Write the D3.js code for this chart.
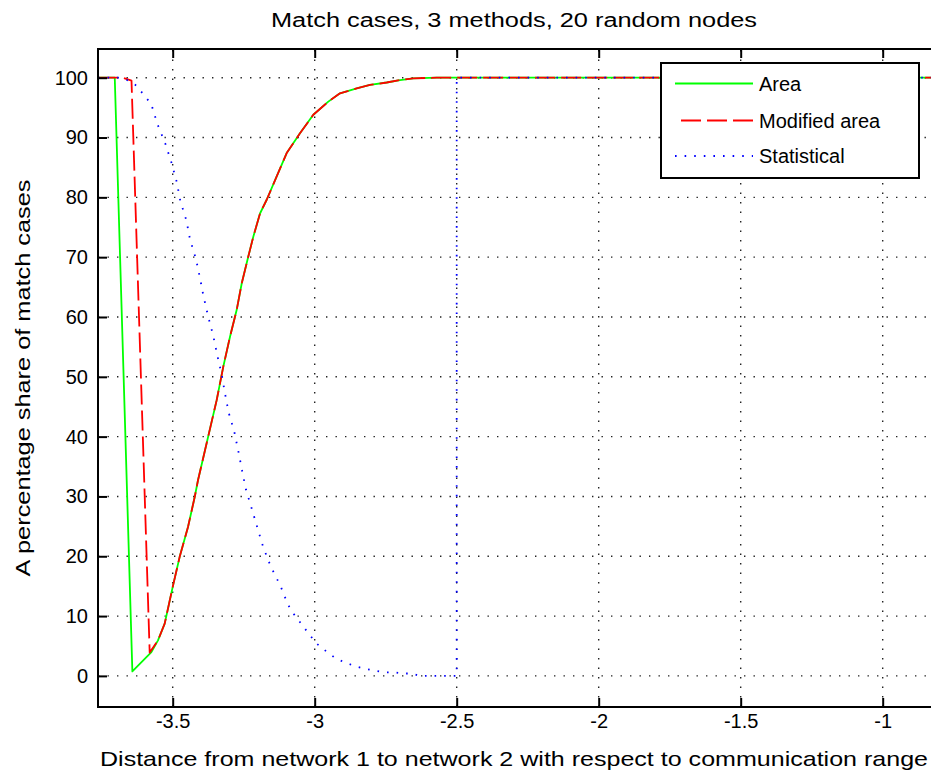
<!DOCTYPE html>
<html>
<head>
<meta charset="utf-8">
<script src="https://cdn.jsdelivr.net/npm/d3@7/dist/d3.min.js"></script>
<style>
  html, body { margin: 0; padding: 0; background: #fff; }
  svg { display: block; }
  text { font-family: "Liberation Sans", Arial, sans-serif; fill: #000; }
</style>
</head>
<body>
<svg id="chart" width="931" height="775"></svg>
<script>
// ---------------- data ----------------
const chartTitle = "Match cases, 3 methods, 20 random nodes";
const xLabel = "Distance from network 1 to network 2 with respect to communication range";
const yLabel = "A percentage share of match cases";
const seriesNames = ["Area", "Modified area", "Statistical"];
const seriesColors = ["#00ff00", "#ff0000", "#0000ff"];

const xTicks = [-3.5, -3, -2.5, -2, -1.5, -1];
const yTicks = [0, 10, 20, 30, 40, 50, 60, 70, 80, 90, 100];

const areaX = [-3.763, -3.704, -3.642, -3.575, -3.5518, -3.5282, -3.4989, -3.4754, -3.4461, -3.4225, -3.4109,
  -3.3451, -3.3218, -3.2982, -3.2746, -3.2570, -3.2338, -3.2162, -3.1926, -3.1690, -3.1338, -3.0986,
  -3.0518, -3.0049, -2.9521, -2.9109, -2.8521, -2.8053, -2.7465, -2.6996, -2.6528, -2.5704, -0.79];
const areaY = [100, 100, 0.75, 3.98, 5.94, 8.73, 15.1, 19.9, 24.9, 29.9, 32.7,
  46.1, 51.7, 56.7, 61.2, 65.6, 70.1, 73.4, 77.3, 79.6, 83.5, 87.4,
  90.7, 93.8, 96.0, 97.4, 98.2, 98.8, 99.2, 99.6, 99.9, 100, 100];

const modX = [-3.763, -3.675, -3.645, -3.581, -3.5518, -3.5282, -3.4989, -3.4754, -3.4461, -3.4225, -3.4109,
  -3.3451, -3.3218, -3.2982, -3.2746, -3.2570, -3.2338, -3.2162, -3.1926, -3.1690, -3.1338, -3.0986,
  -3.0518, -3.0049, -2.9521, -2.9109, -2.8521, -2.8053, -2.7465, -2.6996, -2.6528, -2.5704, -0.79];
const modY = [100, 100, 99.5, 3.9, 5.94, 8.73, 15.1, 19.9, 24.9, 29.9, 32.7,
  46.1, 51.7, 56.7, 61.2, 65.6, 70.1, 73.4, 77.3, 79.6, 83.5, 87.4,
  90.7, 93.8, 96.0, 97.4, 98.2, 98.8, 99.2, 99.6, 99.9, 100, 100];

const statX = [-3.763, -3.6856, -3.6599, -3.6282, -3.6011, -3.5754, -3.5542, -3.5261, -3.5049, -3.4859,
  -3.4732, -3.4521, -3.4391, -3.4180, -3.4039, -3.3908, -3.3746, -3.3570, -3.3430, -3.3275, -3.3158,
  -3.3028, -3.2831, -3.2690, -3.2560, -3.2419, -3.2218, -3.2021, -3.1810, -3.1549, -3.1211, -3.0940,
  -3.0729, -3.0472, -3.0201, -2.9930, -2.9592, -2.9250, -2.8908, -2.8570, -2.8239, -2.7901, -2.7560,
  -2.7218, -2.6926, -2.6574, -2.6292, -2.5, -2.5, -0.79];
const statY = [100, 100, 99.6, 98.7, 97.1, 95.6, 92.3, 89.0, 85.9, 82.6,
  79.4, 76.2, 73.0, 69.7, 66.5, 63.3, 60.0, 56.8, 53.6, 50.4, 47.2,
  44.0, 40.8, 37.6, 34.4, 31.1, 28.0, 24.8, 21.5, 18.3, 15.1, 11.9,
  10.3, 8.7, 7.0, 5.4, 4.1, 2.9, 2.2, 1.6, 1.2, 0.9, 0.6,
  0.6, 0.4, 0.4, 0, 0, 100, 100];

// ---------------- layout ----------------
const svg = d3.select("#chart");
const plotL = 98, plotT = 49, plotB = 707;
const x = d3.scaleLinear().domain([-3.763, -0.79]).range([plotL, plotL + 2.973 * 284]);
const y = d3.scaleLinear().domain([-5.2, 104.8]).range([plotB, plotT]);
const plotR = x.range()[1];

svg.append("rect").attr("width", 931).attr("height", 775).attr("fill", "#fff");

svg.append("defs").append("clipPath").attr("id", "clip")
  .append("rect").attr("x", plotL).attr("y", plotT).attr("width", plotR - plotL).attr("height", plotB - plotT);

svg.append("rect").attr("x", plotL).attr("y", plotT).attr("width", plotR - plotL).attr("height", plotB - plotT)
  .attr("fill", "#fff");

// grid
const grid = svg.append("g").attr("clip-path", "url(#clip)")
  .attr("stroke", "#222").attr("stroke-width", 1.4).attr("stroke-dasharray", "1.4,8.1");
grid.selectAll("line.v").data(xTicks).join("line").attr("class", "v")
  .attr("x1", d => x(d)).attr("x2", d => x(d)).attr("y1", plotB).attr("y2", plotT);
grid.selectAll("line.h").data(yTicks).join("line").attr("class", "h")
  .attr("x1", plotL).attr("x2", plotR).attr("y1", d => y(d)).attr("y2", d => y(d));

// series
const lineGen = d3.line().x(d => x(d[0])).y(d => y(d[1]));
const seriesData = [
  { xs: areaX, ys: areaY, dash: null, width: 1.8 },
  { xs: modX, ys: modY, dash: "20,6", width: 1.8 },
  { xs: statX, ys: statY, dash: "1.6,8", width: 1.8 }
];
const lines = svg.append("g").attr("clip-path", "url(#clip)");
seriesData.forEach((s, i) => {
  lines.append("path")
    .datum(s.xs.map((v, k) => [v, s.ys[k]]))
    .attr("d", lineGen)
    .attr("fill", "none")
    .attr("stroke", seriesColors[i])
    .attr("stroke-width", s.width)
    .attr("stroke-dasharray", s.dash)
    .attr("stroke-linejoin", "round");
});

// axes (ticks inward)
const fmt = d => String(d);
const xAxis = svg.append("g").attr("transform", `translate(0,${plotB})`)
  .call(d3.axisBottom(x).tickValues(xTicks).tickFormat(fmt).tickSizeInner(-9).tickSizeOuter(0).tickPadding(7));
const xAxisTop = svg.append("g").attr("transform", `translate(0,${plotT})`)
  .call(d3.axisTop(x).tickValues(xTicks).tickFormat("").tickSizeInner(-9).tickSizeOuter(0));
const yAxis = svg.append("g").attr("transform", `translate(${plotL},0)`)
  .call(d3.axisLeft(y).tickValues(yTicks).tickFormat(fmt).tickSizeInner(-9).tickSizeOuter(0).tickPadding(10));
[xAxis, xAxisTop, yAxis].forEach(g => {
  g.select(".domain").remove();
  g.selectAll(".tick line").attr("stroke", "#000").attr("stroke-width", 2);
  g.selectAll(".tick text").style("font-size", "20px").style("font-family", '"Liberation Sans", Arial, sans-serif').attr("fill", "#000");
});

// frame
svg.append("rect").attr("x", plotL).attr("y", plotT).attr("width", plotR - plotL).attr("height", plotB - plotT)
  .attr("fill", "none").attr("stroke", "#000").attr("stroke-width", 2);

// title & labels
svg.append("text").attr("x", 514).attr("y", 27).attr("text-anchor", "middle")
  .style("font-size", "20px").attr("textLength", 486).attr("lengthAdjust", "spacingAndGlyphs").text(chartTitle);
svg.append("text").attr("x", 514).attr("y", 766).attr("text-anchor", "middle")
  .style("font-size", "21px").attr("textLength", 828).attr("lengthAdjust", "spacingAndGlyphs").text(xLabel);
svg.append("text").attr("transform", "translate(30,378) rotate(-90)").attr("text-anchor", "middle")
  .style("font-size", "21px").attr("textLength", 397).attr("lengthAdjust", "spacingAndGlyphs").text(yLabel);

// legend
const lg = svg.append("g");
lg.append("rect").attr("x", 661).attr("y", 63).attr("width", 258).attr("height", 115)
  .attr("fill", "#fff").attr("stroke", "#000").attr("stroke-width", 2);
const rowY = [83.5, 120.5, 156];
seriesNames.forEach((name, i) => {
  lg.append("line").attr("x1", 675).attr("x2", 753).attr("y1", rowY[i]).attr("y2", rowY[i])
    .attr("stroke", seriesColors[i]).attr("stroke-width", 1.8)
    .attr("stroke-dasharray", seriesData[i].dash)
    .attr("stroke-dashoffset", i === 1 ? 20 : (i === 2 ? 0 : null));
  lg.append("text").attr("x", 759).attr("y", rowY[i]).attr("dy", "0.35em")
    .style("font-size", "20px").text(name);
});
</script>
</body>
</html>
